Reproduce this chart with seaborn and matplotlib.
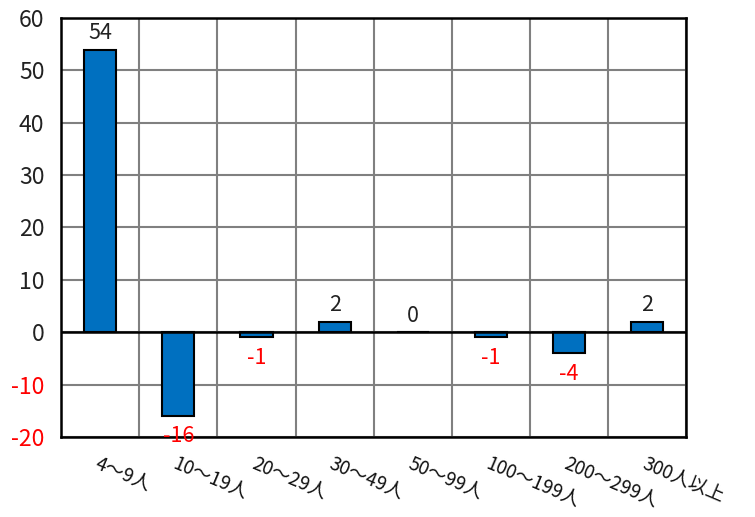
import numpy as np
import matplotlib
matplotlib.use("Agg")
import matplotlib.pyplot as plt
import seaborn as sns

categories = ["4～9人", "10～19人", "20～29人", "30～49人", "50～99人", "100～199人", "200～299人", "300人以上"]
values = [54, -16, -1, 2, 0, -1, -4, 2]
y_ticks = [-20, -10, 0, 10, 20, 30, 40, 50, 60]

sns.set_style("white")
plt.rcParams["font.family"] = ["Noto Sans CJK JP", "DejaVu Sans"]
plt.rcParams["axes.unicode_minus"] = False

fig = plt.figure(figsize=(7.55, 5.17), dpi=100)
ax = fig.add_axes([0.081, 0.155, 0.828, 0.81])

sns.barplot(x=categories, y=values, color="#0070C0", width=0.41,
            edgecolor="black", linewidth=1.5, saturation=1, ax=ax, zorder=3)

ax.set_ylim(-20, 60)
ax.set_xlim(-0.5, len(categories) - 0.5)
ax.set_yticks(y_ticks)
ax.set_xticks(np.arange(-0.5, len(categories)), minor=True)
ax.grid(which="minor", axis="x", color="#808080", linewidth=1.5, zorder=0)
ax.grid(which="major", axis="y", color="#808080", linewidth=1.5, zorder=0)
ax.axhline(0, color="black", linewidth=1.8, zorder=4)

for s in ax.spines.values():
    s.set_visible(True)
    s.set_color("black")
    s.set_linewidth(1.8)

ax.tick_params(axis="both", which="both", length=0)
ax.tick_params(axis="y", labelsize=16.5, pad=12)
for lbl, v in zip(ax.get_yticklabels(), y_ticks):
    lbl.set_color("red" if v < 0 else "#222222")

ax.set_xticks(range(len(categories)))
ax.set_xticklabels(categories, rotation=-23, ha="left", rotation_mode="anchor", color="#111111")
ax.tick_params(axis="x", labelsize=13.5, pad=12)

for i, v in enumerate(values):
    if v < 0:
        ax.text(i, v - 1.8, str(v), ha="center", va="top", color="red", fontsize=15.5, zorder=5)
    else:
        ax.text(i, v + 1.0, str(v), ha="center", va="bottom", color="#222222", fontsize=15.5, zorder=5)

ax.set_xlabel("")
ax.set_ylabel("")
fig.savefig("out.png", dpi=100)
